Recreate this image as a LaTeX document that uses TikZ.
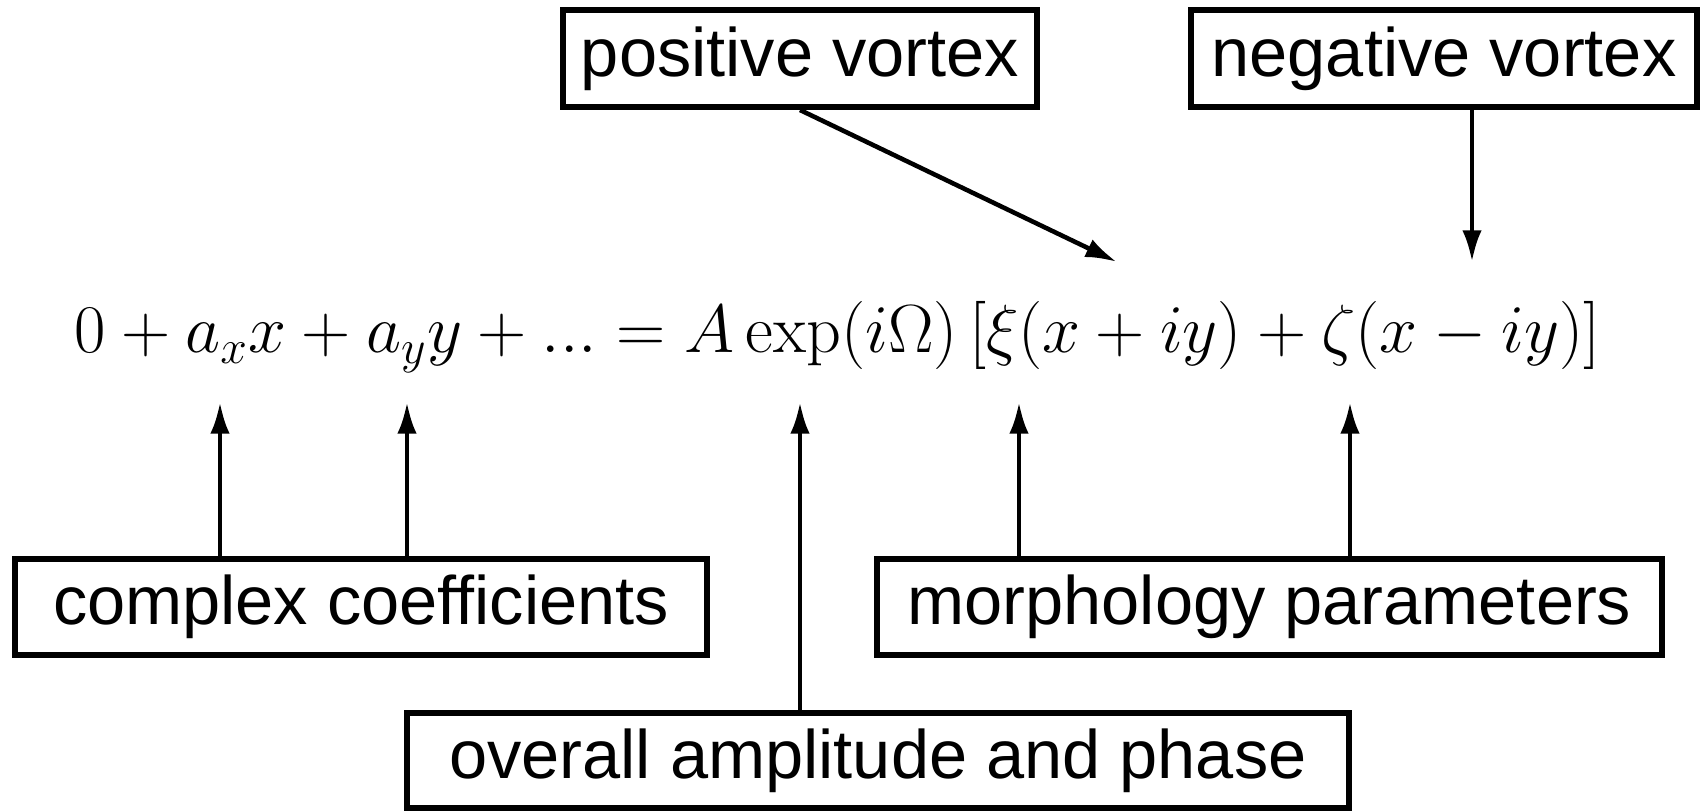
\RequirePackage{fix-cm}
\documentclass[tikz,border=0pt]{standalone}
\usepackage{fontspec}
\usepackage{amsmath}
\usepackage{tikz}
\usetikzlibrary{arrows.meta}
\newfontfamily\labelfont{Liberation Sans}

\begin{document}
\begin{tikzpicture}[
  lbl/.style={draw, line width=1.7pt, inner sep=0pt,
    font=\labelfont\fontsize{19.5}{23}\selectfont},
  pointer/.style={line width=1.3pt, -{Latex[length=9pt,width=5.5pt]}}]
  \useasboundingbox (0,0) rectangle (17.02,8.11);

  % the equation
  \node[anchor=base west, inner sep=0pt, font=\fontsize{19.4}{23}\selectfont] (eq) at (0.74,4.58)
    {$0 + a_x x + a_y y + ... = A\exp(i\Omega)\,[\xi(x+iy)+\zeta(x-iy)]$};

  % boxes
  \node[lbl, minimum width=4.74cm, minimum height=0.97cm] (pos) at (8.00,7.525) {positive vortex};
  \node[lbl, minimum width=5.06cm, minimum height=0.97cm] (neg) at (14.44,7.525) {negative vortex};
  \node[lbl, minimum width=6.92cm, minimum height=0.96cm] (cc) at (3.61,2.04) {complex coefficients};
  \node[lbl, minimum width=7.85cm, minimum height=0.96cm] (mp) at (12.695,2.04) {morphology parameters};
  \node[lbl, minimum width=9.42cm, minimum height=0.95cm] (oa) at (8.78,0.505) {overall amplitude and phase};

  % arrow tips
  \coordinate (ax) at (2.20,4.09);
  \coordinate (ay) at (4.07,4.09);
  \coordinate (amp) at (8.00,4.09);
  \coordinate (xi) at (10.19,4.09);
  \coordinate (zeta) at (13.50,4.09);
  \coordinate (pv) at (11.17,5.49);
  \coordinate (nv) at (14.72,5.49);

  \draw[pointer] (cc.north -| ax) -- (ax);
  \draw[pointer] (cc.north -| ay) -- (ay);
  \draw[pointer] (oa.north -| amp) -- (amp);
  \draw[pointer] (mp.north -| xi) -- (xi);
  \draw[pointer] (mp.north -| zeta) -- (zeta);
  \draw[pointer] (pos.south) -- (pv);
  \draw[pointer] (neg.south -| nv) -- (nv);

\end{tikzpicture}
\end{document}
